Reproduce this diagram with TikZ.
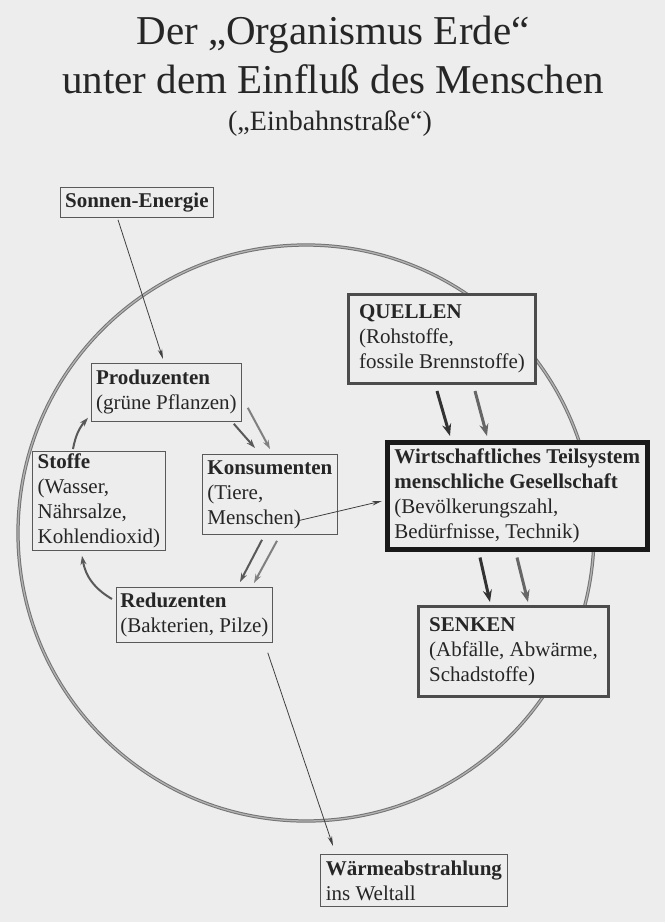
\documentclass[tikz,border=0pt]{standalone}
\usepackage{fontspec}
\setmainfont{Liberation Serif}
\usetikzlibrary{calc,arrows.meta}
\definecolor{bg}{gray}{0.93}
\tikzset{
  box/.style={draw=black!65, line width=0.8pt, fill=bg, anchor=north west, align=left,
    inner sep=2pt, text=black!85, font=\fontsize{21}{25}\selectfont},
  heavybox/.style={box, draw=black!70, line width=3pt},
  blackbox/.style={box, draw=black!90, line width=4.5pt},
  thinarrow/.style={draw=black!75, line width=0.8pt, -{Stealth[length=10pt,width=4.5pt]}},
  midarrow/.style={draw=black!65, line width=2pt, -{Stealth[length=9pt,width=6pt]}},
  bigarrow/.style={draw=black!80, line width=3pt, -{Stealth[length=12pt,width=9pt]}},
  ring/.style={draw=black!55, double=black!30, line width=1pt, double distance=1.3pt},
  titlefont/.style={font=\fontsize{41}{45}\selectfont, text=black!85, anchor=base, inner sep=0pt}
}
\begin{document}
\begin{tikzpicture}[x=1pt,y=-1pt]
\fill[bg] (0,0) rectangle (665,922);
\useasboundingbox (0,0) rectangle (665,922);

% title
\node[titlefont] (t1) at (333,44) {Der „Organismus Erde“};
\node[titlefont] (t2) at (333,93) {unter dem Einfluß des Menschen};
\node[titlefont, font=\fontsize{28}{30}\selectfont] (t3) at (330,130) {(„Einbahnstraße“)};

% ring
\draw[ring] (306,533) circle[radius=288];

% boxes
\node[box, minimum width=153pt, minimum height=30pt] (sonne) at (60,187) {\textbf{Sonnen-Energie}};
\node[box, minimum width=150pt, minimum height=58pt] (prod) at (91,363) {\textbf{Produzenten}\\(grüne Pflanzen)};
\node[box, minimum width=133pt, minimum height=99pt] (stoffe) at (32,451) {\textbf{Stoffe}\\(Wasser,\\Nährsalze,\\Kohlendioxid)};
\node[box, minimum width=135pt, minimum height=80pt] (kons) at (202,454) {\textbf{Konsumenten}\\(Tiere,\\Menschen)};
\node[box, minimum width=156pt, minimum height=55pt] (red) at (116,587) {\textbf{Reduzenten}\\(Bakterien, Pilze)};
\node[heavybox, minimum width=187pt, minimum height=89pt] (quellen) at (347,293) {\textbf{QUELLEN}\\(Rohstoffe,\\fossile Brennstoffe)};
\node[blackbox, minimum width=260pt, minimum height=107pt] (wirt) at (385,440) {\textbf{Wirtschaftliches Teilsystem}\\\textbf{menschliche Gesellschaft}\\(Bevölkerungszahl,\\Bedürfnisse, Technik)};
\node[heavybox, minimum width=190pt, minimum height=90pt] (senken) at (417,605) {\textbf{SENKEN}\\(Abfälle, Abwärme,\\Schadstoffe)};
\node[box, minimum width=187pt, minimum height=52pt] (waerme) at (320,854) {\textbf{Wärmeabstrahlung}\\ins Weltall};

% connectors
\draw[thinarrow] ($(sonne.south west)+(58,2)$) -- ($(prod.north west)+(72,-4)$);
\draw[midarrow] ($(prod.south east)+(-8,2)$) -- ($(kons.north west)+(53,-6)$);
\draw[midarrow, draw=black!50] ($(prod.south east)+(6,-14)$) -- ($(kons.north west)+(68,-5)$);
\draw[midarrow] ($(stoffe.north west)+(41,-2)$) to[bend left=15] ($(prod.south west)+(-3,-4)$);
\draw[midarrow] ($(kons.south west)+(60,5)$) -- ($(red.north west)+(124,-5)$);
\draw[midarrow, draw=black!50] ($(kons.south west)+(75,6)$) -- ($(red.north west)+(138,-4)$);
\draw[midarrow] ($(red.north west)+(-4,12)$) to[bend left=25] ($(stoffe.south west)+(50,5)$);
\draw[thinarrow] ($(kons.south east)+(-40,-14)$) -- ($(wirt.north west)+(-3,61)$);
\draw[bigarrow] ($(quellen.south west)+(90,6)$) -- ($(wirt.north west)+(65,-4)$);
\draw[bigarrow, draw=black!60] ($(quellen.south west)+(128,6)$) -- ($(wirt.north west)+(102,-4)$);
\draw[bigarrow] ($(wirt.south west)+(95,6)$) -- ($(senken.north west)+(73,-3)$);
\draw[bigarrow, draw=black!60] ($(wirt.south west)+(132,6)$) -- ($(senken.north west)+(111,-3)$);
\draw[thinarrow] ($(red.south east)+(-5,10)$) -- ($(waerme.north west)+(13,-8)$);
\end{tikzpicture}
\end{document}
